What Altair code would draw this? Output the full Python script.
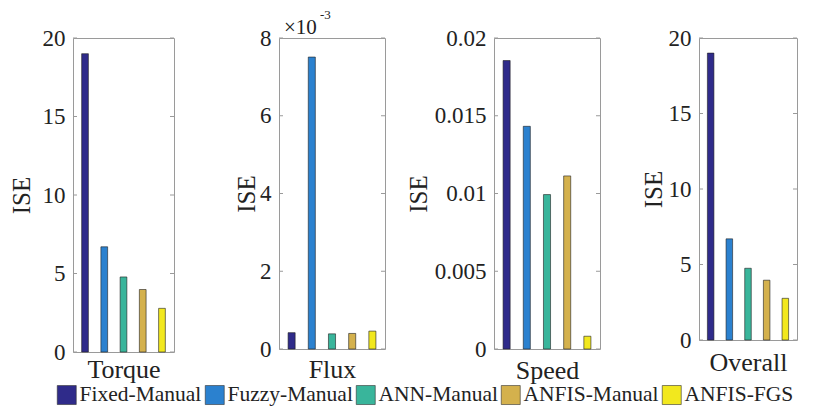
import altair as alt
import pandas as pd

# ---- data ----
series = ["Fixed-Manual", "Fuzzy-Manual", "ANN-Manual", "ANFIS-Manual", "ANFIS-FGS"]
colors = ["#2f2b8a", "#2b81cf", "#39b59b", "#d4b14d", "#f2e81e"]

torque = [19.0, 6.7, 4.78, 3.98, 2.78]
flux = [0.00042, 0.00751, 0.00039, 0.00040, 0.00046]
speed = [0.01855, 0.01432, 0.00993, 0.01113, 0.00082]
overall = [19.0, 6.7, 4.75, 3.96, 2.76]

torque_ticks = [0, 5, 10, 15, 20]
flux_ticks = [0, 0.002, 0.004, 0.006, 0.008]
speed_ticks = [0, 0.005, 0.01, 0.015, 0.02]
overall_ticks = [0, 5, 10, 15, 20]

panel_titles = ["Torque", "Flux", "Speed", "Overall"]
y_title = "ISE"
exponent_base = ["×10"]
exponent_power = ["-3"]

FONT = "Liberation Serif"
INK = "#222222"
FRAME = "#9a9a9a"


def panel(values, ticks, xtitle, w, h, extent, title_x, xpad, fmt=None, expr=None, exponent=False):
    df = pd.DataFrame({"series": series, "value": values})
    tick_df = pd.DataFrame({"value": ticks})
    yax = dict(values=ticks, title=y_title, domain=False, ticks=False, tickSize=0, grid=False,
               labelPadding=8, labelFont=FONT, labelFontSize=23, labelColor=INK,
               titleFont=FONT, titleFontSize=25, titleFontWeight="normal", titleColor=INK,
               titleBaseline="alphabetic", titleX=title_x, minExtent=extent, maxExtent=extent)
    if fmt:
        yax["format"] = fmt
    if expr:
        yax["labelExpr"] = expr
    y_scale = alt.Scale(domain=[ticks[0], ticks[-1]], nice=False)
    bars = alt.Chart(df).mark_bar(stroke="#1e1e1e", strokeWidth=0.6).encode(
        x=alt.X("series:N", sort=series,
                scale=alt.Scale(domain=series, paddingInner=0.65, paddingOuter=0.45),
                axis=alt.Axis(labels=False, ticks=False, domain=False, grid=False, title=xtitle,
                              titleFont=FONT, titleFontSize=26, titleFontWeight="normal",
                              titleColor=INK, titlePadding=xpad, minExtent=0, maxExtent=0)),
        y=alt.Y("value:Q", scale=y_scale, axis=alt.Axis(**yax)),
        color=alt.Color("series:N", sort=series,
                        scale=alt.Scale(domain=series, range=colors),
                        legend=alt.Legend(title=None)),
    )
    lt = alt.Chart(tick_df).mark_rule(color=FRAME, strokeWidth=1).encode(
        y=alt.Y("value:Q", axis=alt.Axis(**yax)), x=alt.value(0), x2=alt.value(4))
    rt = alt.Chart(tick_df).mark_rule(color=FRAME, strokeWidth=1).encode(
        y=alt.Y("value:Q", axis=alt.Axis(**yax)), x=alt.value(w - 4), x2=alt.value(w))
    layers = [bars, lt, rt]
    if exponent:
        t1 = alt.Chart(pd.DataFrame({"t": exponent_base})).mark_text(
            align="left", baseline="alphabetic", font=FONT, fontSize=21, color=INK
        ).encode(text="t:N", x=alt.value(5), y=alt.value(-4))
        t2 = alt.Chart(pd.DataFrame({"t": exponent_power})).mark_text(
            align="left", baseline="alphabetic", font=FONT, fontSize=13, color=INK
        ).encode(text="t:N", x=alt.value(41), y=alt.value(-19))
        layers += [t1, t2]
    return alt.layer(*layers).properties(width=w, height=h)


p1 = panel(torque, torque_ticks, panel_titles[0], 101, 314, 64, -44, 4)
p2 = panel(flux, flux_ticks, panel_titles[1], 106, 311, 103, -25, 7,
           expr="format(datum.value*1000, '~f')", exponent=True)
p3 = panel(speed, speed_ticks, panel_titles[2], 106, 311, 107, -68, 8, fmt="~f")
p4 = panel(overall, overall_ticks, panel_titles[3], 98, 302, 97, -38, 9)

chart = alt.hconcat(p1, p2, p3, p4, spacing=0).configure_view(
    stroke=FRAME, strokeWidth=1
).configure_legend(
    orient="none", legendX=-17, legendY=346, direction="horizontal", columns=5,
    symbolType="square", symbolSize=361, symbolStrokeColor="#333333",
    symbolStrokeWidth=0.6, symbolOpacity=1, labelFont=FONT, labelFontSize=21.5,
    labelColor=INK, columnPadding=2, labelOffset=2, labelLimit=300,
).properties(
    padding={"left": 0, "top": 0, "right": 0, "bottom": 0},
    background="white",
)

chart.save("out.html", embed_options={"renderer": "svg", "actions": False})
